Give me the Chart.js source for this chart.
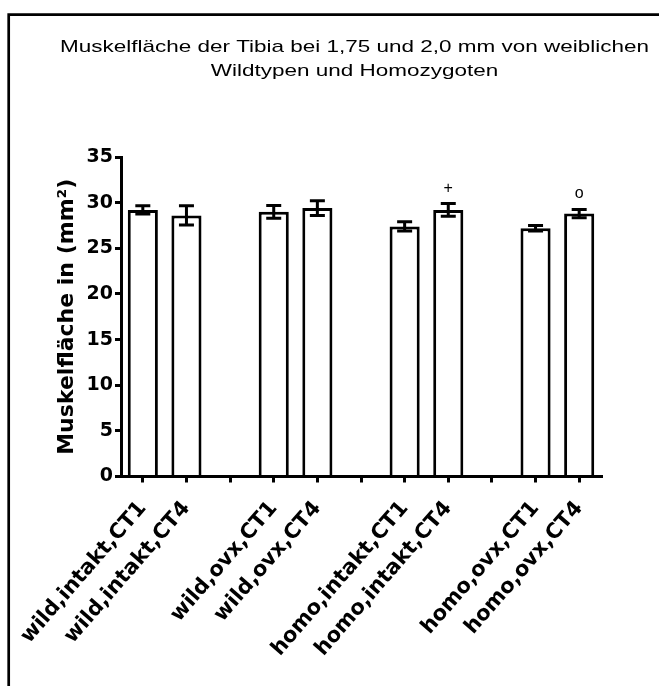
<!DOCTYPE html>
<html>
<head>
<meta charset="utf-8">
<script src="https://cdn.jsdelivr.net/npm/chart.js@4.4.1/dist/chart.umd.min.js"></script>
<style>
  html, body { margin: 0; padding: 0; background: #fff; }
  canvas { display: block; }
</style>
</head>
<body>
<canvas id="c" width="659" height="686"></canvas>
<script>
// Groups (empty strings are the gaps between the four groups)
const categories = [
  'wild,intakt,CT1', 'wild,intakt,CT4', '',
  'wild,ovx,CT1', 'wild,ovx,CT4', '',
  'homo,intakt,CT1', 'homo,intakt,CT4', '',
  'homo,ovx,CT1', 'homo,ovx,CT4'
];
// Mean muscle area (mm²)
const means = [29.2, 28.6, null, 29.0, 29.4, null, 27.4, 29.2, null, 27.2, 28.8];
// Error (± SEM)
const errors = [0.45, 1.05, null, 0.7, 0.8, null, 0.5, 0.7, null, 0.3, 0.45];
// Significance markers above the bars
const markers = ['', '', '', '', '', '', '', '+', '', '', 'o'];
// Value axis
const yMin = 0, yMax = 35, yStep = 5;

const titleLines = [
  'Muskelfläche der Tibia bei 1,75 und 2,0 mm von weiblichen',
  'Wildtypen und Homozygoten'
];
const yAxisTitle = 'Muskelfläche in (mm²)';

const TICK_FONT = { family: 'DejaVu Sans', weight: 'bold', size: 19 };
const CAT_FONT = { family: 'DejaVu Sans', weight: 'bold', size: 21 };

// Outer frame, stretched title, error bars and markers
const decorations = {
  id: 'decorations',
  beforeDraw(chart) {
    const ctx = chart.ctx;
    ctx.save();
    ctx.fillStyle = '#fff';
    ctx.fillRect(0, 0, chart.width, chart.height);
    // frame (left and top edges visible)
    ctx.strokeStyle = '#000';
    ctx.lineWidth = 2.7;
    ctx.beginPath();
    ctx.moveTo(8.7, chart.height + 5);
    ctx.lineTo(8.7, 14.7);
    ctx.lineTo(chart.width + 5, 14.7);
    ctx.stroke();
    // title: wide sans text, two centred lines
    ctx.fillStyle = '#000';
    ctx.font = '17px "Liberation Sans", Arial, sans-serif';
    ctx.textAlign = 'center';
    ctx.textBaseline = 'alphabetic';
    const sx = 589 / ctx.measureText(titleLines[0]).width;
    const cx = 354.5;
    const baselines = [51.5, 75.5];
    titleLines.forEach((t, i) => {
      ctx.save();
      ctx.translate(cx, baselines[i]);
      ctx.scale(sx, 1);
      ctx.fillText(t, 0, 0);
      ctx.restore();
    });
    ctx.restore();
  },
  afterDatasetsDraw(chart) {
    const ctx = chart.ctx;
    const meta = chart.getDatasetMeta(0);
    const y = chart.scales.y;
    ctx.save();
    ctx.strokeStyle = '#000';
    ctx.lineWidth = 3;
    ctx.lineCap = 'butt';
    means.forEach((m, i) => {
      if (m === null) return;
      const bar = meta.data[i];
      const x = bar.x;
      const top = y.getPixelForValue(m + errors[i]);
      const bot = y.getPixelForValue(m - errors[i]);
      const half = 7.5;
      ctx.beginPath();
      ctx.moveTo(x, top);
      ctx.lineTo(x, bot);
      ctx.moveTo(x - half, top);
      ctx.lineTo(x + half, top);
      ctx.moveTo(x - half, bot);
      ctx.lineTo(x + half, bot);
      ctx.stroke();
      if (markers[i]) {
        ctx.fillStyle = '#000';
        ctx.font = '16px "Liberation Sans", Arial, sans-serif';
        ctx.textAlign = 'center';
        ctx.textBaseline = 'alphabetic';
        ctx.fillText(markers[i], x, top - 11);
      }
    });
    ctx.restore();
  }
};

new Chart(document.getElementById('c'), {
  type: 'bar',
  data: {
    labels: categories,
    datasets: [{
      data: means,
      backgroundColor: '#fff',
      borderColor: '#000',
      borderWidth: 3,
      barPercentage: 0.69,
      categoryPercentage: 1.0
    }]
  },
  options: {
    responsive: false,
    devicePixelRatio: 1,
    animation: false,
    layout: { padding: { top: 157, right: 58, left: 0, bottom: 0 } },
    plugins: { legend: { display: false }, tooltip: { enabled: false }, title: { display: false } },
    scales: {
      x: {
        type: 'category',
        offset: true,
        grid: { offset: false, drawOnChartArea: false, drawTicks: true, tickLength: 6, lineWidth: 3, color: '#000' },
        border: { display: true, width: 3, color: '#000' },
        ticks: { font: CAT_FONT, color: '#000', minRotation: 49, maxRotation: 49, autoSkip: false, padding: 14 },
        afterFit(s) { s.height = 686 - 476.5; }
      },
      y: {
        min: yMin,
        max: yMax,
        grid: { drawOnChartArea: false, drawTicks: true, tickLength: 6, lineWidth: 3, color: '#000' },
        border: { display: true, width: 3, color: '#000' },
        ticks: { stepSize: yStep, font: TICK_FONT, color: '#000', padding: 2 },
        title: {
          display: true,
          text: yAxisTitle,
          color: '#000',
          font: { family: 'DejaVu Sans', weight: 'bold', size: 22 },
          padding: { top: 54, bottom: 0 }
        },
        afterFit(s) { s.width = 121; }
      }
    }
  },
  plugins: [decorations]
});
</script>
</body>
</html>
